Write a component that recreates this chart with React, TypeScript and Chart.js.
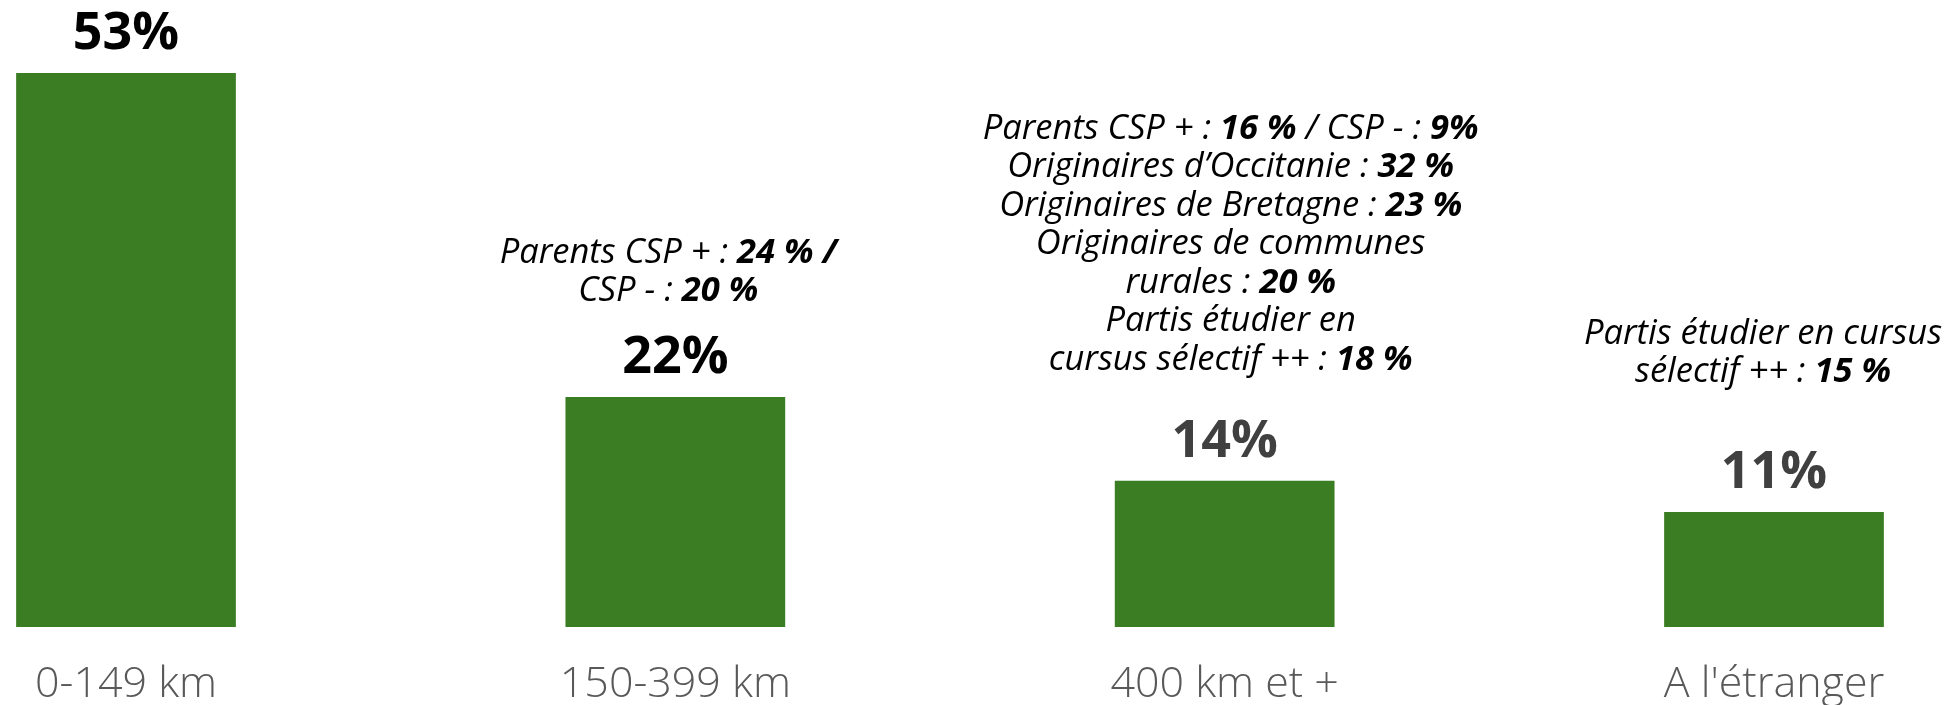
import React, { useEffect, useRef } from "react";
import { Chart, registerables } from "chart.js";

Chart.register(...registerables);

const categories = ["0-149 km", "150-399 km", "400 km et +", "A l'étranger"];
const values = [53, 22, 14, 11];
const valueLabels = ["53%", "22%", "14%", "11%"];
const valueLabelColors = ["#000000", "#000000", "#404040", "#404040"];

// Annotation lines above each bar: each line is a list of [text, bold]
const annotations: [string, boolean][][][] = [
  [],
  [
    [["Parents CSP + : ", false], ["24 % /", true]],
    [["CSP - : ", false], ["20 %", true]],
  ],
  [
    [["Parents CSP + : ", false], ["16 %", true], [" / CSP - : ", false], ["9%", true]],
    [["Originaires d\u2019Occitanie : ", false], ["32 %", true]],
    [["Originaires de Bretagne : ", false], ["23 %", true]],
    [["Originaires de communes", false]],
    [["rurales : ", false], ["20 %", true]],
    [["Partis étudier en", false]],
    [["cursus sélectif ++ : ", false], ["18 %", true]],
  ],
  [
    [["Partis étudier en cursus", false]],
    [["sélectif ++ : ", false], ["15 %", true]],
  ],
];

// Layout (pixels)
const annotationGap = [0, 72, 87, 106];
const annotationShift = [0, -7, 6, -11];
const lineStep = 38.5;

const BAR_COLOR = "#3B7D23";
const FONT = "'Open Sans', 'DejaVu Sans', sans-serif";

const labelPlugin = {
  id: "barLabels",
  afterDatasetsDraw(chart: any) {
    const ctx = chart.ctx as CanvasRenderingContext2D;
    const meta = chart.getDatasetMeta(0);
    ctx.save();
    meta.data.forEach((bar: any, i: number) => {
      const x = bar.x;
      const top = bar.y;
      const vBase = top - 24;
      ctx.font = `bold 52px ${FONT}`;
      ctx.fillStyle = valueLabelColors[i];
      ctx.textAlign = "center";
      ctx.textBaseline = "alphabetic";
      ctx.fillText(valueLabels[i], x, vBase);

      const lines = annotations[i];
      if (!lines.length) return;
      const lastBase = vBase - annotationGap[i];
      const cx = x + annotationShift[i];
      ctx.textAlign = "left";
      ctx.fillStyle = "#000000";
      lines.forEach((segs, li) => {
        const y = lastBase - (lines.length - 1 - li) * lineStep;
        let total = 0;
        const widths = segs.map(([t, b]) => {
          ctx.font = `italic ${b ? 700 : 400} 34.5px ${FONT}`;
          const w = ctx.measureText(t).width;
          total += w;
          return w;
        });
        let sx = cx - total / 2;
        segs.forEach(([t, b], si) => {
          ctx.font = `italic ${b ? 700 : 400} 34.5px ${FONT}`;
          ctx.fillText(t, sx, y);
          sx += widths[si];
        });
      });
    });
    ctx.restore();
  },
};

export default function App() {
  const ref = useRef<HTMLCanvasElement>(null);
  useEffect(() => {
    if (!ref.current) return;
    const chart = new Chart(ref.current, {
      type: "bar",
      data: {
        labels: categories,
        datasets: [
          {
            data: values,
            backgroundColor: BAR_COLOR,
            borderWidth: 0,
            categoryPercentage: 1,
            barPercentage: 0.4,
            clip: false as any,
          },
        ],
      },
      options: {
        responsive: false,
        animation: false,
        layout: { padding: { left: 126, right: 180, top: 52, bottom: 0 } },
        plugins: { legend: { display: false }, tooltip: { enabled: false } },
        scales: {
          x: {
            offset: false,
            grid: { display: false, drawTicks: true, tickLength: 37 },
            border: { display: false },
            ticks: {
              color: "#595959",
              font: { family: FONT, size: 43, weight: "300" as any },
              padding: -5.3,
              maxRotation: 0,
              autoSkip: false,
            },
          },
          y: { display: false, min: 0, max: 55 },
        },
      },
      plugins: [labelPlugin],
    });
    return () => chart.destroy();
  }, []);
  return (
    <div style={{ position: "absolute", left: 0, top: 0, width: 1954, height: 705, background: "#fff" }}>
      <canvas ref={ref} width={1954} height={705} style={{ display: "block" }} />
    </div>
  );
}
